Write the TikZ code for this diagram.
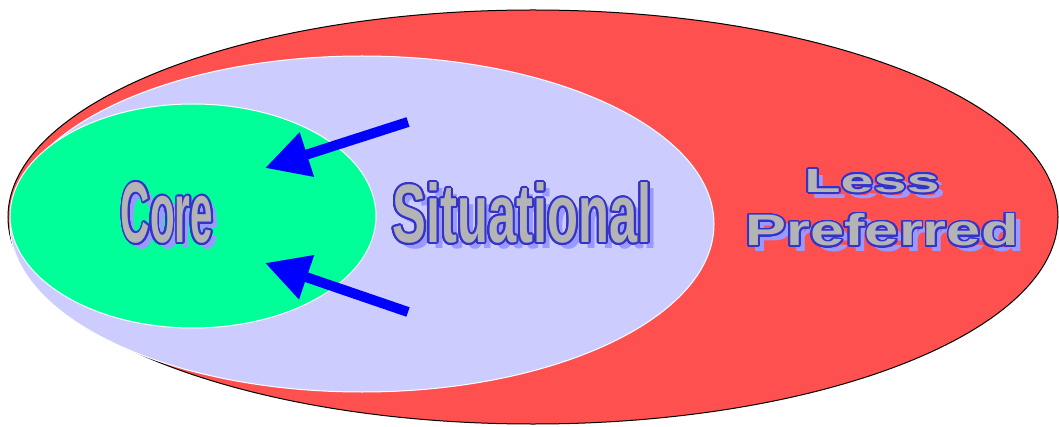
\documentclass[tikz,border=0pt]{standalone}
\usepackage{fontspec}
\setmainfont{Liberation Sans}
\usepackage{contour}
\usetikzlibrary{arrows.meta}
\definecolor{redfill}{HTML}{FF5050}
\definecolor{lavfill}{HTML}{CCCCFF}
\definecolor{greenfill}{HTML}{00FF99}
\definecolor{arrowblue}{HTML}{0000FF}
\definecolor{shadowc}{HTML}{9999FF}
\definecolor{outlinec}{HTML}{3333CC}
\definecolor{textgray}{HTML}{B4B4B4}
\contourlength{1.8pt}
\contournumber{24}
\newcommand\fancybox[3]{\resizebox{#1}{#2}{\bfseries #3}}
\tikzset{
  shadowtext/.style={inner sep=0pt, text=shadowc},
  maintext/.style={inner sep=0pt, text=textgray},
  bigarrow/.style={draw=arrowblue, line width=10pt, -{Triangle[length=44pt,width=44pt]}},
}
\begin{document}
\begin{tikzpicture}[x=1pt,y=1pt]
\useasboundingbox (0,0) rectangle (1059,426);
\fill[white] (0,0) rectangle (1059,426);
\filldraw[fill=redfill, draw=black, line width=1pt] (533,209) ellipse [x radius=525, y radius=207];
\filldraw[fill=lavfill, draw=white, line width=1pt] (362,202) ellipse [x radius=352, y radius=168];
\filldraw[fill=greenfill, draw=white, line width=1pt] (193,210) ellipse [x radius=183, y radius=112];
% text shadows
\node[shadowtext] (coreS) at (173,207) {\fancybox{92pt}{60pt}{Core}};
\node[shadowtext] (sitS) at (528,207) {\fancybox{259pt}{60pt}{Situational}};
\node[shadowtext] (lessS) at (878,239) {\fancybox{135pt}{23pt}{Less}};
\node[shadowtext] (prefS) at (888,190) {\fancybox{273pt}{32pt}{Preferred}};
% main texts
\node[maintext] (core) at (167,212) {\color{textgray}\contour{outlinec}{\fancybox{92pt}{60pt}{Core}}};
\node[maintext] (sit) at (522,212) {\color{textgray}\contour{outlinec}{\fancybox{259pt}{60pt}{Situational}}};
\node[maintext] (less) at (872,244) {\color{textgray}\contour{outlinec}{\fancybox{135pt}{23pt}{Less}}};
\node[maintext] (pref) at (882,195) {\color{textgray}\contour{outlinec}{\fancybox{273pt}{32pt}{Preferred}}};
% arrows
\coordinate (a1s) at (408,304);
\coordinate (a1e) at (265,258);
\coordinate (a2s) at (408,114);
\coordinate (a2e) at (265,163);
\draw[bigarrow] (a1s) -- (a1e);
\draw[bigarrow] (a2s) -- (a2e);
\end{tikzpicture}
\end{document}
